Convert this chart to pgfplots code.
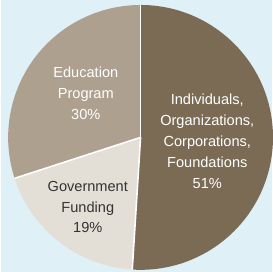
\documentclass[border=0pt]{standalone}
\usepackage{pgfplots}
\pgfplotsset{compat=1.18}
\usepackage{pgfplotstable}
\usepackage{fontspec}
\setmainfont{Liberation Sans}
\definecolor{bg}{HTML}{DFF0F7}
\definecolor{cInd}{HTML}{7B6B55}
\definecolor{cGov}{HTML}{E3DFD6}
\definecolor{cEdu}{HTML}{AEA08E}
\definecolor{dtext}{HTML}{333333}
\pgfplotstableread{
label value
Individuals 51
Government 19
Education 30
}\piedata
\pgfplotstablegetelem{0}{value}\of\piedata \let\vA\pgfplotsretval
\pgfplotstablegetelem{1}{value}\of\piedata \let\vB\pgfplotsretval
\pgfplotstablegetelem{2}{value}\of\piedata \let\vC\pgfplotsretval
\pgfmathsetmacro\aA{90}
\pgfmathsetmacro\aB{\aA-\vA*3.6}
\pgfmathsetmacro\aC{\aB-\vB*3.6}
\pgfmathsetmacro\aD{\aC-\vC*3.6}
\begin{document}
\begin{tikzpicture}
\begin{axis}[width=272bp,height=273bp,scale only axis,
  xmin=0,xmax=272,ymin=0,ymax=273,hide axis,clip=false]
\fill[bg] (axis cs:0,0) rectangle (axis cs:272,273);
\def\cx{140}\def\cy{135}\def\R{133bp}
\fill[cInd] (axis cs:\cx,\cy) -- ++(\aA:\R) arc[start angle=\aA, end angle=\aB, radius=\R] -- cycle;
\fill[cGov] (axis cs:\cx,\cy) -- ++(\aB:\R) arc[start angle=\aB, end angle=\aC, radius=\R] -- cycle;
\fill[cEdu] (axis cs:\cx,\cy) -- ++(\aC:\R) arc[start angle=\aC, end angle=\aD, radius=\R] -- cycle;
\draw[white, line width=1.6bp] (axis cs:\cx,\cy) -- ++(\aA:\R);
\draw[white, line width=1.6bp] (axis cs:\cx,\cy) -- ++(\aB:\R);
\draw[white, line width=1.6bp] (axis cs:\cx,\cy) -- ++(\aC:\R);
\node[align=center, text=white, font=\fontsize{14.7}{21}\selectfont] at (axis cs:207,131) {Individuals,\\Organizations,\\Corporations,\\Foundations\\51\%};
\node[align=center, text=dtext, font=\fontsize{14.7}{21}\selectfont] at (axis cs:87,65) {Government\\Funding\\19\%};
\node[align=center, text=white, font=\fontsize{14.7}{21}\selectfont] at (axis cs:85,179) {Education\\Program\\30\%};
\end{axis}
\end{tikzpicture}
\end{document}
